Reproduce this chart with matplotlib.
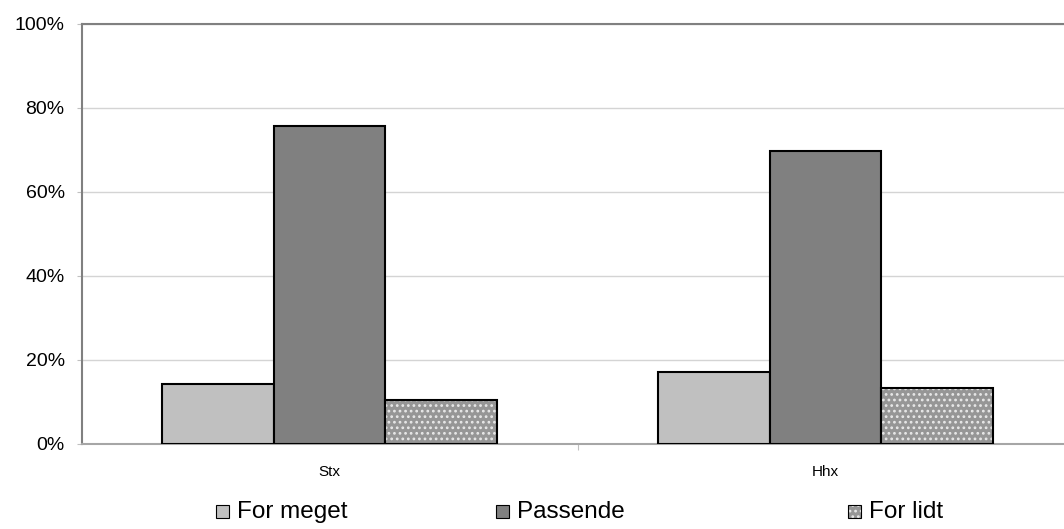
import numpy as np
import matplotlib
matplotlib.use("Agg")
import matplotlib.pyplot as plt
from matplotlib.patches import Rectangle

plt.rcParams["font.family"] = ["Liberation Sans", "DejaVu Sans"]

categories = ["Stx", "Hhx"]
series = ["For meget", "Passende", "For lidt"]
for_meget = [14.2, 17.1]
passende = [75.7, 69.8]
for_lidt = [10.5, 13.3]
y_ticks = [0, 20, 40, 60, 80, 100]

values = [for_meget, passende, for_lidt]
colors = ["#c0c0c0", "#808080", "#969696"]

fig = plt.figure(figsize=(10.64, 5.29), dpi=100)
ax = fig.add_axes([81.5 / 1064, 85 / 529, 992 / 1064, 420 / 529])

x = np.arange(len(categories))
w = 0.2245
offsets = [-w, 0, w]

plt.rcParams["hatch.linewidth"] = 1.2
for i, (vals, c) in enumerate(zip(values, colors)):
    if i == 2:
        ax.bar(x + offsets[i], vals, w, color=c, edgecolor="#e8e8e8",
               hatch="...", linewidth=0, zorder=3)
        ax.bar(x + offsets[i], vals, w, fill=False, edgecolor="black",
               linewidth=1.5, zorder=4)
    else:
        ax.bar(x + offsets[i], vals, w, color=c, edgecolor="black",
               linewidth=1.5, zorder=3)

ax.set_xlim(-0.5, 1.5)
ax.set_ylim(0, 100)
ax.set_yticks(y_ticks)
ax.set_yticklabels([f"{t}%" for t in y_ticks], fontsize=14)
ax.yaxis.grid(True, color="#d4d4d4", linewidth=1, zorder=0)

ax.set_xticks([0.5])
ax.set_xticklabels([""])
ax.set_xticks(x, minor=True)
ax.set_xticklabels(categories, minor=True, fontsize=11)
ax.tick_params(axis="x", which="minor", length=0, pad=15)
ax.tick_params(axis="x", which="major", length=4, color="#c0c0c0")
ax.tick_params(axis="y", length=3.6, color="#c0c0c0", pad=8.5)

for s in ["left", "top", "right"]:
    ax.spines[s].set_color("#808080")
    ax.spines[s].set_linewidth(1.5)
ax.spines["bottom"].set_color("#a6a6a6")
ax.spines["bottom"].set_linewidth(1.5)

# legend, drawn by hand to match the uneven spacing
legend_x = [216, 496, 848]
for lx, name, c, i in zip(legend_x, series, colors, range(3)):
    box = ((lx / 1064, (529 - 518) / 529), 13 / 1064, 13 / 529)
    if i == 2:
        fig.patches.append(Rectangle(*box, transform=fig.transFigure,
                                     facecolor=c, edgecolor="#e8e8e8",
                                     linewidth=0, hatch="..."))
        fig.patches.append(Rectangle(*box, transform=fig.transFigure,
                                     fill=False, edgecolor="black",
                                     linewidth=0.8))
    else:
        fig.patches.append(Rectangle(*box, transform=fig.transFigure,
                                     facecolor=c, edgecolor="black",
                                     linewidth=0.8))
    fig.text((lx + 21) / 1064, (529 - 512) / 529, name, fontsize=17.5,
             va="center", ha="left")

fig.savefig("out.png", dpi=100)
